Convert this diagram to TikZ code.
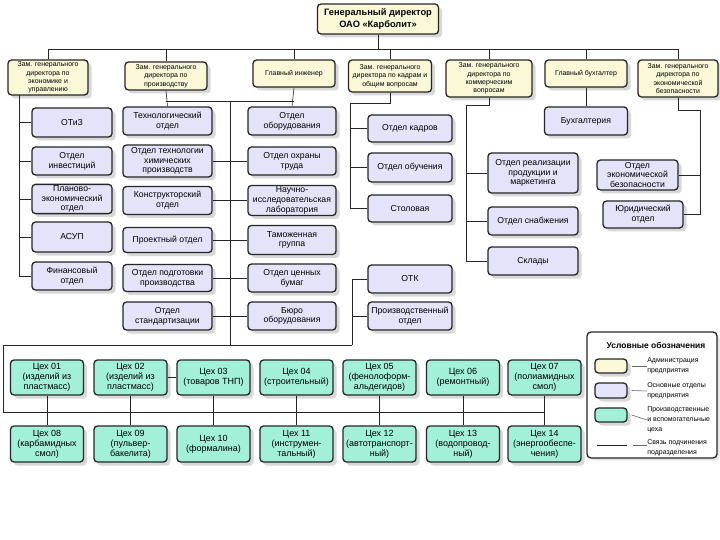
\documentclass[tikz,border=0pt]{standalone}
\usepackage{fontspec}
\setmainfont{Liberation Sans}
\usepackage{xcolor}
\usetikzlibrary{shadows}
\definecolor{adminc}{HTML}{FBF8D8}
\definecolor{deptc}{HTML}{E5E3FA}
\definecolor{shopc}{HTML}{A2F0D8}

\begin{document}
\begin{tikzpicture}[x=1bp, y=-1bp, line width=0.6bp,
    box/.style={draw=black!85, line width=1.3bp, rounded corners=3.5bp, align=center, inner sep=1bp,
        drop shadow={shadow xshift=3.5bp, shadow yshift=-3.5bp, fill=black!30}},
    admin/.style={box, fill=adminc, minimum width=82bp, minimum height=28bp, font=\fontsize{7}{8.4}\selectfont},
    dept/.style={box, fill=deptc, minimum width=84bp, minimum height=28bp, font=\fontsize{8.7}{9.8}\selectfont},
    shop/.style={box, fill=shopc, minimum width=73bp, minimum height=35bp, font=\fontsize{9}{10}\selectfont},
    link/.style={draw=black!85, line width=0.6bp},
    legtext/.style={anchor=west, align=left, inner sep=0pt, font=\fontsize{7}{10}\selectfont}]
    \fill[white] (0,0) rectangle (720,540);
    \useasboundingbox (0,0) rectangle (720,540);

    \node[admin, minimum width=121bp, minimum height=30bp, font=\bfseries\fontsize{9.3}{11.5}\selectfont] (gd) at (378,19) {Генеральный директор\\ОАО «Карболит»};

    \node[admin, minimum width=80bp, minimum height=35bp] (d1) at (48,77.5) {Зам. генерального\\директора по\\экономике и\\управлению};
    \node[admin] (d2) at (166,76) {Зам. генерального\\директора по\\производству};
    \node[admin, minimum height=27bp] (d3) at (294,73.5) {Главный инженер};
    \node[admin, minimum width=83bp, minimum height=32bp] (d4) at (390,76) {Зам. генерального\\директора по кадрам и\\общим вопросам};
    \node[admin, minimum width=86bp, minimum height=37bp] (d5) at (489,78.5) {Зам. генерального\\директора по\\коммерческим\\вопросам};
    \node[admin, minimum height=27bp] (d6) at (586,73.5) {Главный бухгалтер};
    \node[admin, minimum width=80bp, minimum height=37bp] (d7) at (678,78.5) {Зам. генерального\\директора по\\экономической\\безопасности};

    \node[dept, minimum width=80bp, minimum height=29bp] (a1) at (72,122.5) {ОТиЗ};
    \node[dept, minimum width=80bp] (a2) at (72,161) {Отдел\\инвестиций};
    \node[dept, minimum width=80bp] (a3) at (72,199) {Планово-\\экономический\\отдел};
    \node[dept, minimum width=80bp, minimum height=30bp] (a4) at (72,237) {АСУП};
    \node[dept, minimum width=80bp] (a5) at (72,276) {Финансовый\\отдел};

    \node[dept, minimum width=89bp] (b1) at (167.5,121) {Технологический\\отдел};
    \node[dept, minimum width=89bp, minimum height=32bp] (b2) at (167.5,161) {Отдел технологии\\химических\\производств};
    \node[dept, minimum width=89bp] (b3) at (167.5,200.5) {Конструкторский\\отдел};
    \node[dept, minimum width=89bp, minimum height=25bp] (b4) at (167.5,240) {Проектный отдел};
    \node[dept, minimum width=89bp, minimum height=27bp] (b5) at (167.5,278) {Отдел подготовки\\производства};
    \node[dept, minimum width=89bp] (b6) at (167.5,316) {Отдел\\стандартизации};

    \node[dept, minimum width=88bp] (c1) at (292,121) {Отдел\\оборудования};
    \node[dept, minimum width=88bp] (c2) at (292,161) {Отдел охраны\\труда};
    \node[dept, minimum width=88bp, minimum height=30bp] (c3) at (292,200.5) {Научно-\\исследовательская\\лаборатория};
    \node[dept, minimum width=88bp, minimum height=29bp] (c4) at (292,240) {Таможенная\\группа};
    \node[dept, minimum width=88bp] (c5) at (292,278) {Отдел ценных\\бумаг};
    \node[dept, minimum width=88bp] (c6) at (292,316) {Бюро\\оборудования};

    \node[dept, minimum height=27bp] (k1) at (410,128.5) {Отдел кадров};
    \node[dept, minimum height=29bp] (k2) at (410,167.5) {Отдел обучения};
    \node[dept, minimum height=27bp] (k3) at (410,208.5) {Столовая};
    \node[dept] (q1) at (410,279) {ОТК};
    \node[dept] (q2) at (410,316) {Производственный\\отдел};

    \node[dept, minimum width=90bp, minimum height=40bp] (e1) at (533,173) {Отдел реализации\\продукции и\\маркетинга};
    \node[dept, minimum width=90bp] (e2) at (533,221) {Отдел снабжения};
    \node[dept, minimum width=90bp] (e3) at (533,261) {Склады};

    \node[dept, minimum width=83bp] (f0) at (586,121) {Бухгалтерия};
    \node[dept, minimum width=81bp, minimum height=30bp] (g1) at (637.5,175) {Отдел\\экономической\\безопасности};
    \node[dept, minimum width=80bp, minimum height=27bp] (g2) at (643,214.5) {Юридический\\отдел};

    \node[shop] (s1) at (47,377.5) {Цех 01\\(изделий из\\пластмасс)};
    \node[shop] (s2) at (130.5,377.5) {Цех 02\\(изделий из\\пластмасс)};
    \node[shop] (s3) at (213.5,377.5) {Цех 03\\(товаров ТНП)};
    \node[shop] (s4) at (296.5,377.5) {Цех 04\\(строительный)};
    \node[shop] (s5) at (379.5,377.5) {Цех 05\\(фенолоформ-\\альдегидов)};
    \node[shop] (s6) at (463,377.5) {Цех 06\\(ремонтный)};
    \node[shop] (s7) at (544.5,377.5) {Цех 07\\(полиамидных\\смол)};

    \node[shop, minimum height=36bp] (t1) at (47,444) {Цех 08\\(карбамидных\\смол)};
    \node[shop, minimum height=36bp] (t2) at (130.5,444) {Цех 09\\(пульвер-\\бакелита)};
    \node[shop, minimum height=36bp] (t3) at (213.5,444) {Цех 10\\(формалина)};
    \node[shop, minimum height=36bp] (t4) at (296.5,444) {Цех 11\\(инструмен-\\тальный)};
    \node[shop, minimum height=36bp] (t5) at (379.5,444) {Цех 12\\(автотранспорт-\\ный)};
    \node[shop, minimum height=36bp] (t6) at (463,444) {Цех 13\\(водопровод-\\ный)};
    \node[shop, minimum height=36bp] (t7) at (544.5,444) {Цех 14\\(энергообеспе-\\чения)};

    \coordinate (bus) at (46,49);
    \coordinate (ta) at (19,95);
    \coordinate (tbc) at (230,101);
    \coordinate (td) at (350,103);
    \coordinate (tq) at (352,345);
    \coordinate (te) at (466,105);
    \coordinate (tf) at (700,110);
    \coordinate (bus2) at (3,345);
    \coordinate (ts) at (3,412);

    \draw[link] (gd.south) -- (gd.south |- bus);
    \draw[link] (d1.north |- bus) -- (d7.north |- bus);
    \foreach \n in {1,...,7}
        \draw[link] (d\n.north) -- (d\n.north |- bus);

    \draw[link] (ta) -- (ta |- a5.west);
    \foreach \n in {1,...,5}
        \draw[link] (a\n.west) -- (a\n.west -| ta);

    \draw[link] (d2.south) -- (b1.north);
    \draw[link] (d3.south) -- (c1.north);
    \draw[link] (d2.south |- tbc) -- (d3.south |- tbc);
    \draw[link] (tbc) -- (tbc |- bus2);
    \foreach \n in {2,...,6}
        \draw[link] (b\n.east) -- (c\n.west);

    \draw[link] (d4.south) |- (td) -- (td |- k3.west);
    \foreach \n in {1,2,3}
        \draw[link] (k\n.west) -- (k\n.west -| td);
    \draw[link] (tq) -- (tq |- q1.west);
    \foreach \n in {1,2}
        \draw[link] (q\n.west) -- (q\n.west -| tq);

    \draw[link] (d5.south) |- (te) -- (te |- e3.west);
    \foreach \n in {1,2,3}
        \draw[link] (e\n.west) -- (e\n.west -| te);

    \draw[link] (d6.south) -- (f0.north);
    \draw[link] (d7.south) |- (tf) -- (tf |- g2.east) -- (g2.east);
    \draw[link] (g1.east) -- (g1.east -| tf);

    \draw[link] (tq) -- (bus2) -- (ts) -- (ts -| s7.south);
    \foreach \n in {1,...,7}
        \draw[link] (s\n.south) -- (t\n.north);
    \draw[link] (s2.east) -- (s3.west);

    \node[draw=black!85, line width=1.3bp, rounded corners=4bp, fill=white, minimum width=130bp, minimum height=126bp,
        drop shadow={shadow xshift=2.5bp, shadow yshift=-2.5bp, fill=black!20}] (leg) at (652,395) {};
    \node[font=\bfseries\fontsize{8.5}{10}\selectfont] (legt) at (656,345) {Условные обозначения};
    \node[admin, minimum width=32bp, minimum height=14bp] (l1) at (611,366) {};
    \node[dept, minimum width=32bp, minimum height=15bp] (l2) at (611,390.5) {};
    \node[shop, minimum width=32bp, minimum height=14bp] (l3) at (611,415) {};
    \coordinate (l4a) at (597,445);
    \coordinate (l4b) at (627,445);
    \node[legtext] (lt1) at (647,366) {Администрация\\предприятия};
    \node[legtext] (lt2) at (647,391) {Основные отделы\\предприятия};
    \node[legtext] (lt3) at (647,420) {Производственные\\и вспомогательные\\цеха};
    \node[legtext] (lt4) at (647,448) {Связь подчинения\\подразделения};
    \foreach \n in {1,2,3}
        \draw[link, draw=black!60] ([xshift=4bp]l\n.east) -- (lt\n.west);
    \draw[link] (l4a) -- (l4b);
    \draw[link, draw=black!60] ([xshift=6bp]l4b) -- (lt4.west |- l4b);
\end{tikzpicture}
\end{document}
